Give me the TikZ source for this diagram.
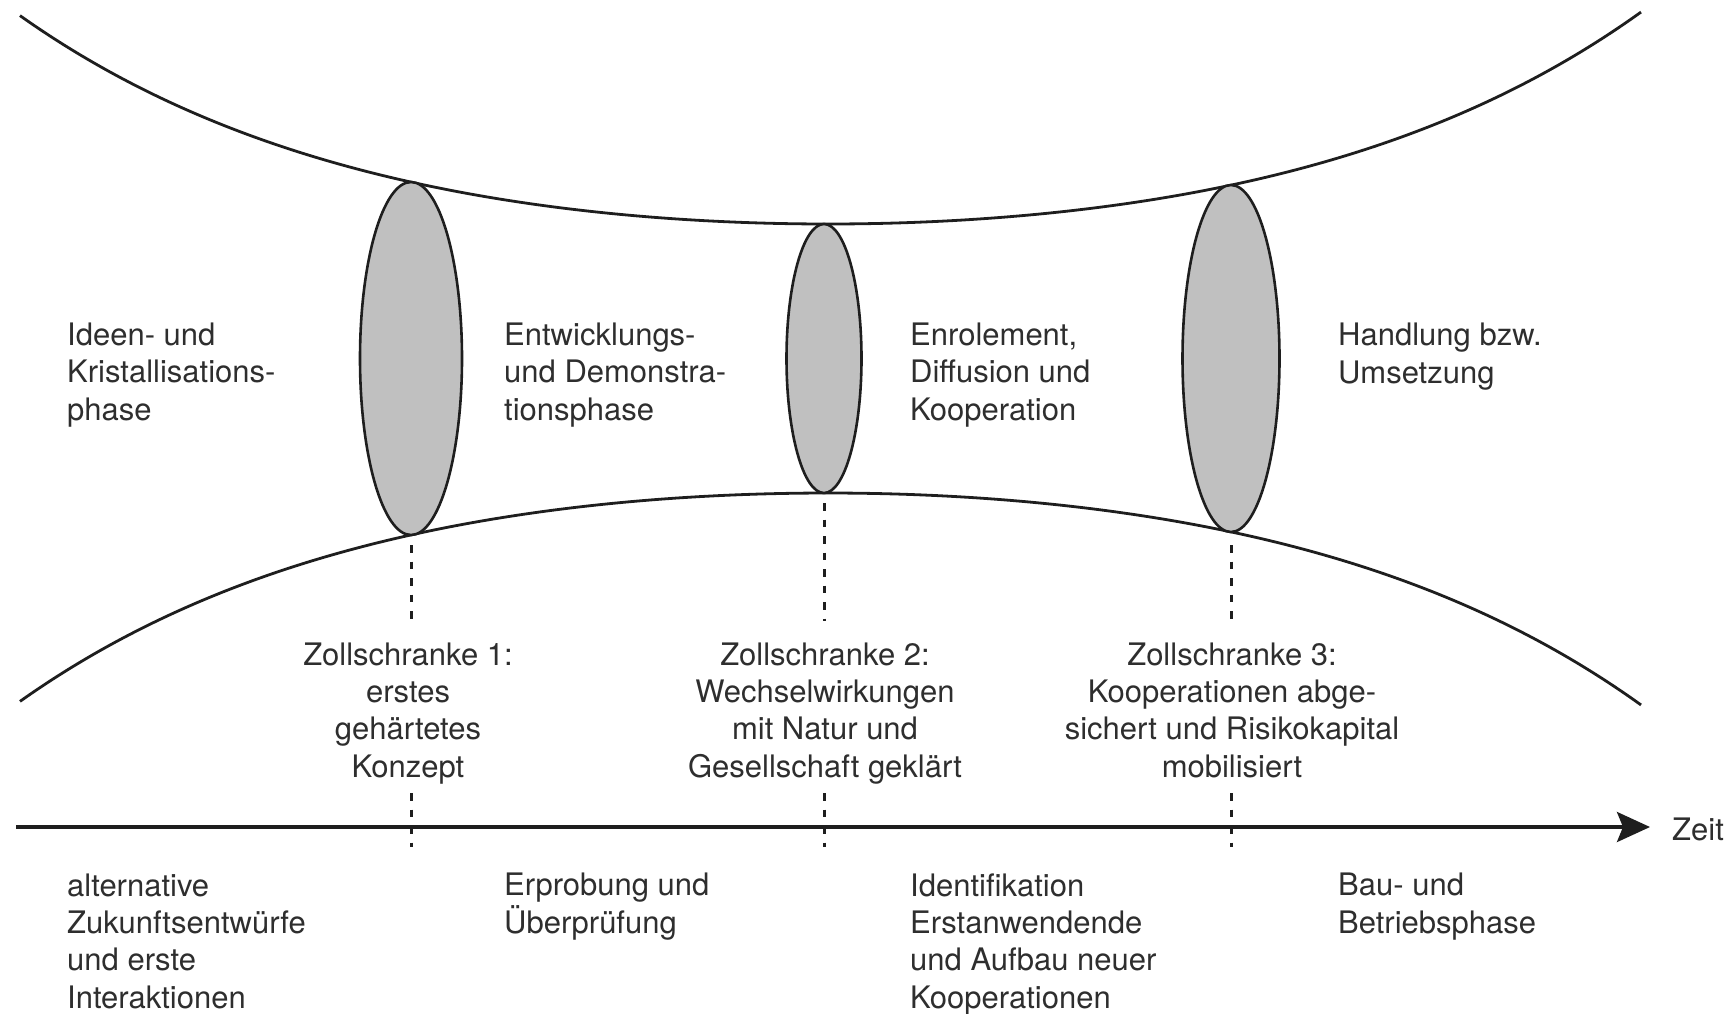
\documentclass[tikz,border=0pt]{standalone}
\usepackage{fontspec}
\setmainfont{TeX Gyre Heros}
\usetikzlibrary{arrows.meta,shapes.geometric}
\definecolor{ink}{HTML}{1E1E1E}
\definecolor{txt}{HTML}{2E2E2E}
\definecolor{fillg}{HTML}{C0C0C0}
\begin{document}
\begin{tikzpicture}[x=1pt,y=-1pt,
  curve/.style={draw=ink,line width=2.8pt},
  gate/.style={ellipse,draw=ink,fill=fillg,line width=2.6pt,inner sep=0pt},
  guide/.style={draw=ink,line width=3pt,dash pattern=on 7.5pt off 9pt},
  axisline/.style={draw=ink,line width=3.6pt,-{Stealth[length=33pt,width=30pt,inset=6pt]}},
  phasetext/.style={font=\fontsize{31}{37.3}\selectfont,text=txt,align=left,anchor=base west,inner sep=0pt},
  gatetext/.style={font=\fontsize{31}{37.3}\selectfont,text=txt,align=center,anchor=base,inner sep=0pt}]
\useasboundingbox (0,0) rectangle (1729,1013);

% funnel curves
\draw[curve] plot[domain=20:1641,samples=160,smooth] (\x,{224-58.8*(cosh(0.00272*(\x-828))-1)});
\draw[curve] plot[domain=20:1641,samples=160,smooth] (\x,{493+58.8*(cosh(0.00272*(\x-828))-1)});

% gates
\node[gate,minimum width=102pt,minimum height=353pt] (e1) at (411,358.5) {};
\node[gate,minimum width=75pt,minimum height=269pt] (e2) at (824,358.5) {};
\node[gate,minimum width=97pt,minimum height=347pt] (e3) at (1231,358.5) {};

% dashed guides
\coordinate (g1a) at (411,545); \coordinate (g1b) at (411,621);
\coordinate (g1c) at (411,793); \coordinate (g1d) at (411,847);
\coordinate (g2a) at (824,503); \coordinate (g2b) at (824,621);
\coordinate (g2c) at (824,793); \coordinate (g2d) at (824,847);
\coordinate (g3a) at (1231,545); \coordinate (g3b) at (1231,621);
\coordinate (g3c) at (1231,793); \coordinate (g3d) at (1231,847);
\draw[guide] (g1a) -- (g1b);
\draw[guide] (g1c) -- (g1d);
\draw[guide] (g2a) -- (g2b);
\draw[guide] (g2c) -- (g2d);
\draw[guide] (g3a) -- (g3b);
\draw[guide] (g3c) -- (g3d);

% time axis
\coordinate (t0) at (16,827);
\coordinate (t1) at (1650,827);
\draw[axisline] (t0) -- (t1);
\node[phasetext] (zeit) at (1672,840) {Zeit};

% phase texts
\node[phasetext] (p1) at (67,420) {Ideen- und\\Kristallisations-\\phase};
\node[phasetext] (p2) at (504,420) {Entwicklungs-\\und Demonstra-\\tionsphase};
\node[phasetext] (p3) at (910,420) {Enrolement,\\Diffusion und\\Kooperation};
\node[phasetext] (p4) at (1338,383) {Handlung bzw.\\Umsetzung};

% gate texts
\node[gatetext] (z1) at (408,777) {Zollschranke 1:\\erstes\\gehärtetes\\Konzept};
\node[gatetext] (z2) at (825,777) {Zollschranke 2:\\Wechselwirkungen\\mit Natur und\\Gesellschaft geklärt};
\node[gatetext] (z3) at (1232,777) {Zollschranke 3:\\Kooperationen abge-\\sichert und Risikokapital\\mobilisiert};

% activity texts
\node[phasetext] (a1) at (67,1008) {alternative\\Zukunftsentwürfe\\und erste\\Interaktionen};
\node[phasetext] (a2) at (504,933) {Erprobung und\\Überprüfung};
\node[phasetext] (a3) at (910,1008) {Identifikation\\Erstanwendende\\und Aufbau neuer\\Kooperationen};
\node[phasetext] (a4) at (1338,933) {Bau- und\\Betriebsphase};
\end{tikzpicture}
\end{document}
